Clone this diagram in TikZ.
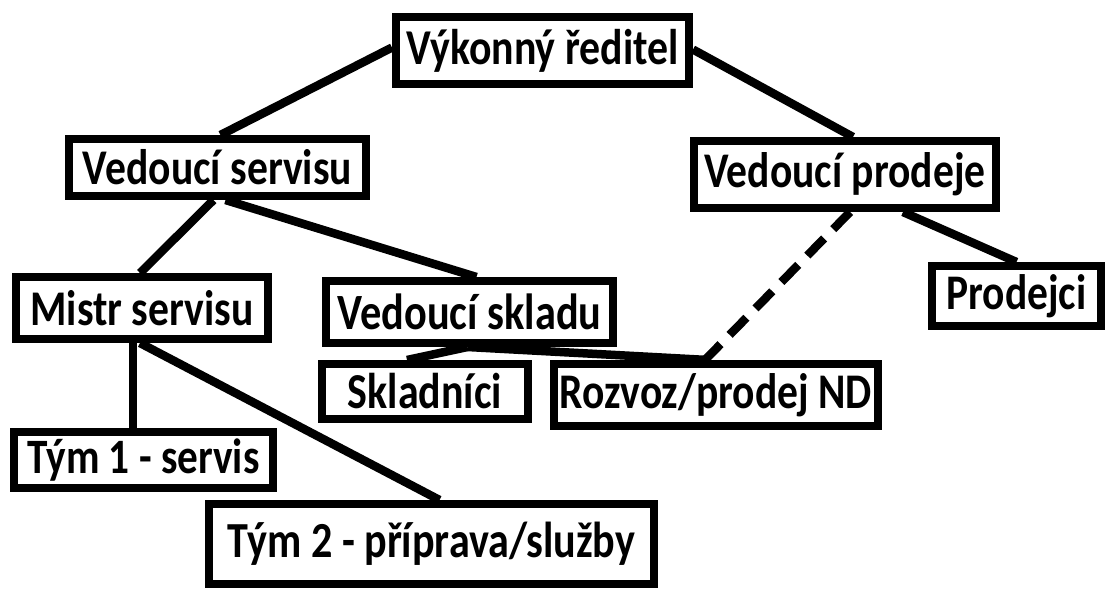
\documentclass[tikz,border=0pt]{standalone}
\usepackage{fontspec}
\usepackage{graphicx}
\setmainfont{Carlito}
\newcommand{\fitT}[2]{\scalebox{1}[1.2]{\resizebox{#1pt}{!}{\bfseries #2}}}
\begin{document}
\begin{tikzpicture}[x=1pt,y=-1pt,
  orgbox/.style={draw, line width=8pt, inner sep=0pt, rectangle, fill=white},
  link/.style={line width=8.5pt},
  dlink/.style={line width=8.5pt, dash pattern=on 24pt off 13pt}]
\useasboundingbox (0,0) rectangle (1112,590);
% nodes
\node[orgbox, minimum width=293pt, minimum height=67pt] (ceo) at (542.5,50.5) {\fitT{272}{Výkonný ředitel}};
\node[orgbox, minimum width=297pt, minimum height=57pt] (vserv) at (217.5,167.5) {\fitT{269}{Vedoucí servisu}};
\node[orgbox, minimum width=302pt, minimum height=67pt] (vprod) at (845,174.5) {\fitT{281}{Vedoucí prodeje}};
\node[orgbox, minimum width=252pt, minimum height=62pt] (mistr) at (142,308) {\fitT{223}{Mistr servisu}};
\node[orgbox, minimum width=287pt, minimum height=62pt] (vskl) at (469.5,312) {\fitT{264}{Vedoucí skladu}};
\node[orgbox, minimum width=206pt, minimum height=55pt] (skl) at (425,391.5) {\fitT{154}{Skladníci}};
\node[orgbox, minimum width=324pt, minimum height=62pt] (rozvoz) at (716,395) {\fitT{312}{Rozvoz/prodej ND}};
\node[orgbox, minimum width=169pt, minimum height=60pt] (prodejci) at (1016.5,296) {\fitT{140}{Prodejci}};
\node[orgbox, minimum width=259pt, minimum height=56pt] (tym1) at (143.5,460) {\fitT{232}{Tým 1 - servis}};
\node[orgbox, minimum width=445pt, minimum height=80pt] (tym2) at (431.5,544) {\fitT{407}{Tým 2 - příprava/služby}};
% connectors
\draw[link] ([yshift=3pt]ceo.west) -- ([xshift=3pt]vserv.north);
\draw[link] ([yshift=1pt]ceo.east) -- ([xshift=8pt]vprod.north);
\draw[link] ([xshift=-4pt]vserv.south) -- ([xshift=-2pt]mistr.north);
\draw[link] ([xshift=8pt]vserv.south) -- ([xshift=7pt]vskl.north);
\draw[link] ([xshift=58pt]vprod.south) -- ([xshift=0pt]prodejci.north);
\draw[dlink] ([xshift=5pt]vprod.south) -- ([xshift=-11pt]rozvoz.north);
\draw[link] ([xshift=-2pt]vskl.south) -- ([xshift=-18pt]skl.north);
\draw[link] ([xshift=-2pt]vskl.south) -- ([xshift=-8pt]rozvoz.north);
\draw[link] ([xshift=-9pt]mistr.south) -- ([xshift=-9pt]mistr.south |- tym1.north);
\draw[link] ([xshift=-2pt]mistr.south) -- ([xshift=8pt]tym2.north);
\end{tikzpicture}
\end{document}
